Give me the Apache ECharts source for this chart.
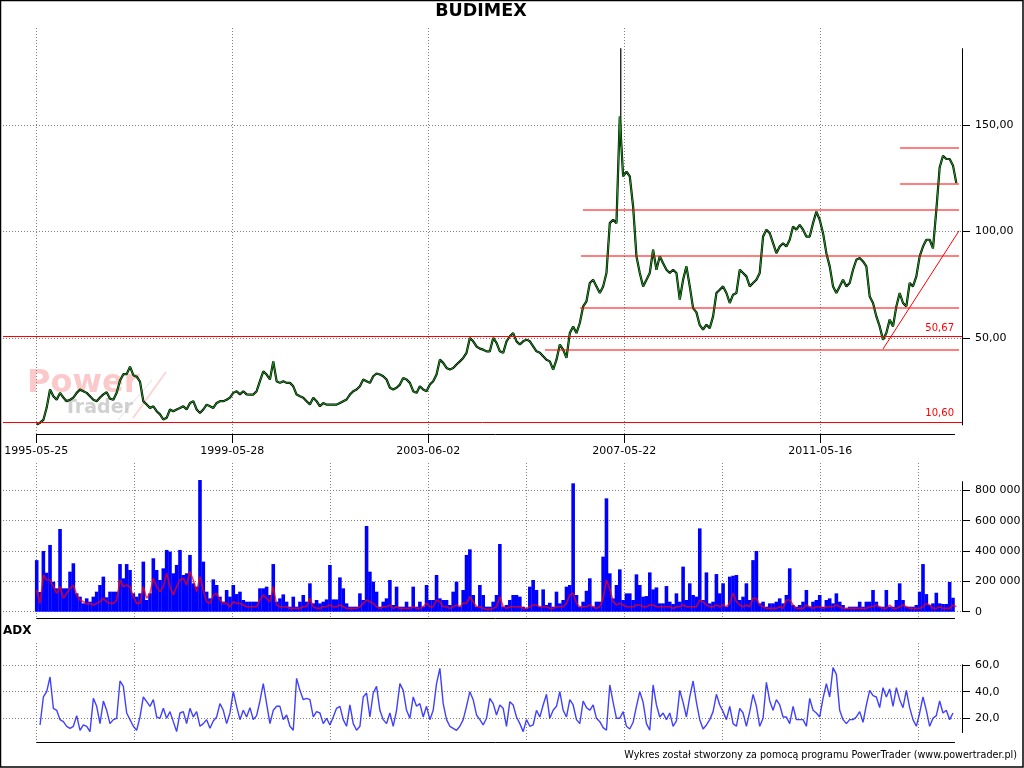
<!DOCTYPE html>
<html><head><meta charset="utf-8">
<script src="https://cdn.jsdelivr.net/npm/echarts@6/dist/echarts.min.js"></script>
<style>html,body{margin:0;padding:0;background:#fff}#c{width:1024px;height:768px}</style>
</head><body><div id="c"></div>
<script>
const chartTitle = 'BUDIMEX';
const footerText = 'Wykres został stworzony za pomocą programu PowerTrader (www.powertrader.pl)';
const dateTickSessions = [0, 1000, 2000, 3000, 4000];
const dateTickLabels = ['1995-05-25', '1999-05-28', '2003-06-02', '2007-05-22', '2011-05-16'];
const gridTickSessions = [0, 500, 1000, 1500, 2000, 2500, 3000, 3500, 4000, 4500];
const priceTicks = [50, 100, 150];
const volumeTicksK = [0, 200, 400, 600, 800];
const adxTicks = [20, 40, 60];

const sampleStep = 17;       // sessions between samples
const priceStart = 2;
const priceClose = [
9.4,10.2,11.5,17.3,25.8,22.6,21,24.2,22,20.3,21,22,24.2,25.8,25,24.2,22.6,21,20.3,22,
23.5,24.5,21.5,21,24.3,30,33,33,36.5,32.5,31.8,29.5,20.3,18.7,17.1,17.9,15.6,14.1,11.7,12.5,
16.4,15.6,16.4,17.1,17.9,16.4,19.5,20.3,16.4,14.8,16.4,18.7,17.9,17.1,19.5,20.3,20.3,21,22,24.2,
25,23.5,25,23.5,23.4,23.4,25,29.7,34.3,32.8,30.5,39,29.7,28.9,29.7,28.9,28.9,27.3,23.4,22.6,
21.9,20.3,18.7,21.9,20.3,17.9,19.5,18.7,18.7,18.7,18.7,19.5,20.3,21.1,23.4,25,25.8,27.3,30.5,29.7,
28.9,32,33.3,32.8,32,30.5,26.6,25.8,26.6,28.1,31.2,30.5,28.9,25,24.2,27.3,25.8,25,28.1,29.7,
32.8,39.8,38.3,35.9,35.2,35.9,37.5,39,40.6,43,50,48.4,46,45,44.5,43.7,43.7,50,47.7,43.7,
43,48.4,50.8,52.3,48.4,46.9,48.4,49.2,48.4,46,43.7,43,41.4,39.8,39,35.1,39.8,46.9,44.5,40.6,
52.3,55.4,52.3,57,64.8,67.2,75.8,77.3,74.2,71.1,74.2,80.5,103.9,105.5,103.9,153.9,125.8,128.1,125.8,111.7,
88.3,80.5,74.2,77.3,80.5,91.4,82,88.3,85.1,82,80.5,82,80.5,68,77.3,83.6,74.2,64,62,56,
53.9,56.2,54.6,60.1,71.1,72.6,74.2,71.1,66.4,70.3,71.1,82,80.5,78.9,74.2,75.8,77.3,80.5,97.6,100.8,
99.2,94.5,89.8,92.9,94.5,92.9,96.1,102.3,100.8,103.1,100.8,97.6,97.6,103.9,109.3,105.5,99.2,89.8,83.6,74.2,
71.1,74.2,77.3,74.2,75.8,82,86.7,87.5,85.9,83.6,69.5,66.4,60.1,55.4,49.2,52.3,58.6,55.4,64.8,71.1,
66.4,64.8,75.8,74.2,78.9,88.3,92.9,96.1,96.1,92,110,130,135.5,134,134,131,122.7
];
const priceSpikes = [[2982, 140, 186]];   // [session, low, high]
const fullLevels = [50.67, 10.60];
const partialLevels = [   // [fromSession, toSession, value]
  [2595, 4708, 44.66], [2774, 4708, 64.35], [2779, 4708, 88.7],
  [2789, 4708, 110.3], [4407, 4708, 122.2], [4407, 4708, 139.4]
];
const trendLine = [[4320, 44.8], [4708, 100.3]];

const volumeStart = 2;
const volumeK = [
340,130,400,257,440,198,154,545,154,154,264,319,121,99,55,88,66,99,132,176,
231,95,132,132,132,314,220,314,275,121,99,121,330,77,121,352,275,209,286,407,
396,253,308,407,242,253,374,187,165,868,330,132,88,213,176,99,66,143,99,176,
116,132,77,66,66,66,66,154,154,165,110,314,66,88,114,66,33,99,33,66,
110,66,187,55,77,55,66,81,308,81,81,226,154,55,33,33,33,121,77,565,
264,198,132,33,66,88,209,44,165,33,33,66,33,165,33,66,33,176,77,77,
242,88,77,77,44,132,198,33,143,374,411,110,33,176,110,33,33,66,110,446,
33,44,77,110,110,99,33,22,165,209,143,33,147,44,59,33,132,55,77,165,
176,846,110,33,66,138,220,33,66,66,363,747,253,88,176,279,77,121,121,77,
246,176,99,103,259,147,160,55,55,169,66,51,121,66,297,77,187,110,99,549,
77,259,55,66,248,121,187,33,231,237,242,77,99,187,77,340,400,55,66,33,
55,55,66,88,55,110,286,44,33,44,66,143,33,66,77,110,33,77,88,55,
121,66,44,22,33,33,33,66,33,66,66,143,66,33,33,143,33,33,77,187,
77,33,33,33,44,132,314,116,44,55,125,55,51,51,196,92
];
const volumeAvgK = [
143,55,242,209,209,165,121,165,88,121,154,176,110,77,66,51,55,44,55,66,
88,66,55,55,77,209,165,176,165,99,55,55,165,88,121,220,165,132,165,253,
165,110,165,209,220,176,264,209,132,231,143,66,55,110,121,77,55,55,33,66,
55,55,44,33,33,33,33,77,110,88,66,165,44,33,33,33,22,22,22,22,
33,33,88,33,22,22,33,33,44,33,33,44,33,22,22,22,22,33,55,77,
66,55,33,22,33,33,44,22,33,22,22,22,22,33,22,22,33,55,33,33,
77,66,33,33,22,33,44,33,55,55,99,66,33,33,22,15,15,22,33,99,
33,22,33,33,33,33,22,22,33,44,44,33,33,33,22,22,33,33,33,55,
110,121,55,33,33,33,44,33,22,33,88,209,150,66,44,55,44,33,33,33,
44,44,33,33,44,44,33,33,33,33,33,22,33,33,44,33,33,33,33,77,
66,44,33,33,44,33,44,33,55,121,66,44,33,44,33,88,88,44,33,22,
22,22,22,33,22,77,77,44,22,22,22,44,33,22,33,33,22,33,33,33,
44,33,22,22,22,22,22,22,22,22,33,33,44,33,22,22,44,22,22,33,
44,33,22,22,22,22,33,55,44,22,22,33,22,22,22,44,33
];

const adxStart = 19;
const adx = [
15,36,40,51,27.5,26,19,17.5,14,12.5,14,22,11,15,14,10,35,29,16,33,
26,16,19,20,48,44,24,19,14,11,21,36,32.5,29,34,21,20,27.5,20,25,
17.5,10,24,25,16,27.5,21,25,14,16,19,12.5,18,21,31,26,16,24,40,29,
19,26,21,28,19,22,33,46,31,16,26,29,29,19,22.5,14,11,50,41,34,
35,34,21,25,24,16,20,15,21,27.5,29,19,14,30,16,11,14,36,39,21,
39,44,26,19,16,24,14,26,46,41,26,20,36,29,31,21,29,19,26,46,
57.5,31,19,14,12.5,11,14,19,29,40,34,22.5,19,15,20,35,31,22.5,30,27.5,
14,32.5,30,21,16,10,19,14,15,26,21,30,38,20,26,29,40,26,21,34,
30,19,16,33,28,26,30,20,17.5,13,11,45,32,20,20,25,14,12,17,29,
40,32,16,11,45,30,21,24,19,24,14,18,41,32,21,36,48,32,19,12,
15,19,25,38,30,25,19,29,16,14,27.5,24,14,25,38,29,14,20,47,33,
26,34,30,21,21,16,29,19,19,19,14,35,26,24,21,35,46,36,58,53,
26,19,16,19,19,21,25,17,30,41,37,36,28,43,36,42,29,43,34,28,
41,28,19,14,24,36,26,14,20,22,33,24,26,19,24
];

const toPairs = (arr, start) => arr.map((v, i) => [start + i * sampleStep, v]);
const X_MIN = -170, X_MAX = 4723, DATA_END = 4687;
const FONT = 'DejaVu Sans';
const dotted = { color: '#808080', type: [1, 2], width: 1 };
const blackLine = { color: '#000', width: 1, type: 'solid' };
const fmtComma = (v, d) => v.toFixed(d).replace('.', ',');
const fmtSpace = (v) => String(Math.round(v)).replace(/\B(?=(\d{3})+(?!\d))/g, ' ');

function xAxisCfg(gridIndex, ticks, labels) {
  return {
    type: 'value', gridIndex, min: X_MIN, max: X_MAX,
    axisLine: { show: false, onZero: false },
    axisTick: { show: !!labels, customValues: ticks, length: 9, inside: false, lineStyle: { color: '#000' } },
    axisLabel: labels ? {
      show: true, customValues: ticks, margin: 12, color: '#000', fontFamily: FONT, fontSize: 11,
      formatter: (v) => labels[ticks.indexOf(v)] || ''
    } : { show: false, customValues: ticks },
    splitLine: { show: true, lineStyle: dotted }
  };
}
function yAxisCfg(gridIndex, min, max, ticks, fmt) {
  return {
    type: 'value', gridIndex, position: 'right', min, max,
    axisLine: { show: false, onZero: false },
    axisTick: { show: true, customValues: ticks, length: 8, lineStyle: { color: '#000' } },
    axisLabel: { show: true, customValues: ticks, margin: 13, color: '#000', fontFamily: FONT, fontSize: 11, formatter: fmt },
    splitLine: { show: true, lineStyle: dotted }
  };
}
const seg = (a, b, style, label) => [{ coord: a, lineStyle: style, label: label || { show: false } }, { coord: b }];

const P_MIN = 4.90, P_MAX = 195.51, V_MIN = -43.5, V_MAX = 980, A_MIN = 2.0, A_MAX = 76.5;
const redSolid = { color: '#ff0000', width: 1, type: 'solid', opacity: 1 };

const priceMarks = [
  ...fullLevels.map((v) => seg([X_MIN, v], [X_MAX, v], redSolid,
    { show: true, formatter: fmtComma(v, 2), position: 'insideEndTop', color: '#ff0000', fontFamily: FONT, fontSize: 10, distance: [8, 3] })),
  ...partialLevels.map((l) => seg([l[0], l[2]], [l[1], l[2]], { color: 'rgba(255,0,0,0.5)', width: 2, type: 'solid' })),
  seg(trendLine[0], trendLine[1], redSolid),
  seg([X_MAX, 9], [X_MAX, 186], blackLine),
  seg([0, P_MIN], [DATA_END, P_MIN], blackLine)
];

const option = {
  animation: false,
  backgroundColor: '#fff',
  title: { text: chartTitle, left: 481, top: 2, padding: 0, textAlign: 'center',
    textStyle: { fontFamily: FONT, fontWeight: 'bold', fontSize: 17.5, color: '#000' } },
  grid: [
    { left: 3, right: 62, top: 28, height: 406 },
    { left: 3, right: 62, top: 463, height: 155.3 },
    { left: 3, right: 62, top: 643, height: 99.3 }
  ],
  xAxis: [
    xAxisCfg(0, dateTickSessions, dateTickLabels),
    xAxisCfg(1, gridTickSessions, null),
    xAxisCfg(2, gridTickSessions, null)
  ],
  yAxis: [
    yAxisCfg(0, P_MIN, P_MAX, priceTicks, (v) => fmtComma(v, 2)),
    yAxisCfg(1, V_MIN, V_MAX, volumeTicksK, (v) => fmtSpace(v * 1000)),
    yAxisCfg(2, A_MIN, A_MAX, adxTicks, (v) => fmtComma(v, 1))
  ],
  graphic: [
    { type: 'rect', silent: true, z: 100, shape: { x: 0.5, y: 0.5, width: 1022.5, height: 766.5 }, style: { fill: 'none', stroke: '#000', lineWidth: 1.5 } },
    { type: 'text', silent: true, z: -1, left: 27, top: 368, style: { text: 'Power', fontFamily: FONT, fontWeight: 'bold', fontSize: 32, fill: 'rgba(245,120,120,0.4)' } },
    { type: 'text', silent: true, z: -1, left: 64, top: 399, style: { text: 'Trader', fontFamily: FONT, fontWeight: 'bold', fontSize: 19, fill: 'rgba(150,150,150,0.45)' } },
    { type: 'line', silent: true, z: -1, shape: { x1: 133, y1: 418, x2: 166, y2: 372 }, style: { stroke: 'rgba(245,120,120,0.3)', lineWidth: 2 } },
    { type: 'line', silent: true, z: -1, shape: { x1: 118, y1: 420, x2: 152, y2: 380 }, style: { stroke: 'rgba(160,160,160,0.3)', lineWidth: 1 } },
    { type: 'text', silent: true, left: 3, top: 625, style: { text: 'ADX', fontFamily: FONT, fontWeight: 'bold', fontSize: 12, fill: '#000' } },
    { type: 'text', silent: true, right: 7, top: 750, style: { text: footerText, fontFamily: FONT, fontSize: 9.6, fill: '#000' } }
  ],
  series: [
    { type: 'line', name: 'priceShadow', xAxisIndex: 0, yAxisIndex: 0, data: toPairs(priceClose, priceStart),
      showSymbol: false, symbol: 'none', lineStyle: { color: '#000', width: 2.2 }, z: 2 },
    { type: 'custom', name: 'spikes', xAxisIndex: 0, yAxisIndex: 0, data: priceSpikes, z: 2,
      encode: { x: 0, y: [1, 2] },
      renderItem: (params, api) => {
        const a = api.coord([api.value(0), api.value(1)]);
        const b = api.coord([api.value(0), api.value(2)]);
        return { type: 'line', shape: { x1: a[0], y1: a[1], x2: b[0], y2: b[1] }, style: { stroke: '#000', lineWidth: 1.2 } };
      } },
    { type: 'line', name: 'price', xAxisIndex: 0, yAxisIndex: 0, data: toPairs(priceClose, priceStart),
      showSymbol: false, symbol: 'none', lineStyle: { color: '#16a016', width: 1 }, z: 3, clip: false,
      markLine: { silent: true, symbol: 'none', animation: false, data: priceMarks, z: 5 } },
    { type: 'bar', name: 'volume', xAxisIndex: 1, yAxisIndex: 1, data: toPairs(volumeK, volumeStart),
      barWidth: 3.6, itemStyle: { color: '#0000ff' }, z: 2, clip: false,
      markLine: { silent: true, symbol: 'none', animation: false, label: { show: false },
        data: [ seg([X_MAX, 0], [X_MAX, 860], blackLine), seg([0, V_MIN], [DATA_END, V_MIN], blackLine) ] } },
    { type: 'line', name: 'volumeAvg', xAxisIndex: 1, yAxisIndex: 1, data: toPairs(volumeAvgK, volumeStart),
      showSymbol: false, symbol: 'none', lineStyle: { color: 'rgba(255,0,0,0.75)', width: 1.6 }, z: 3 },
    { type: 'line', name: 'ADX', xAxisIndex: 2, yAxisIndex: 2, data: toPairs(adx, adxStart),
      showSymbol: false, symbol: 'none', lineStyle: { color: 'rgba(30,30,255,0.85)', width: 1.4 }, z: 3, clip: false,
      markLine: { silent: true, symbol: 'none', animation: false, label: { show: false },
        data: [ seg([X_MAX, 9], [X_MAX, 60.5], blackLine), seg([0, A_MIN], [DATA_END, A_MIN], blackLine) ] } }
  ]
};
const chart = echarts.init(document.getElementById('c'), null, { renderer: 'canvas' });
chart.setOption(option);
</script></body></html>
